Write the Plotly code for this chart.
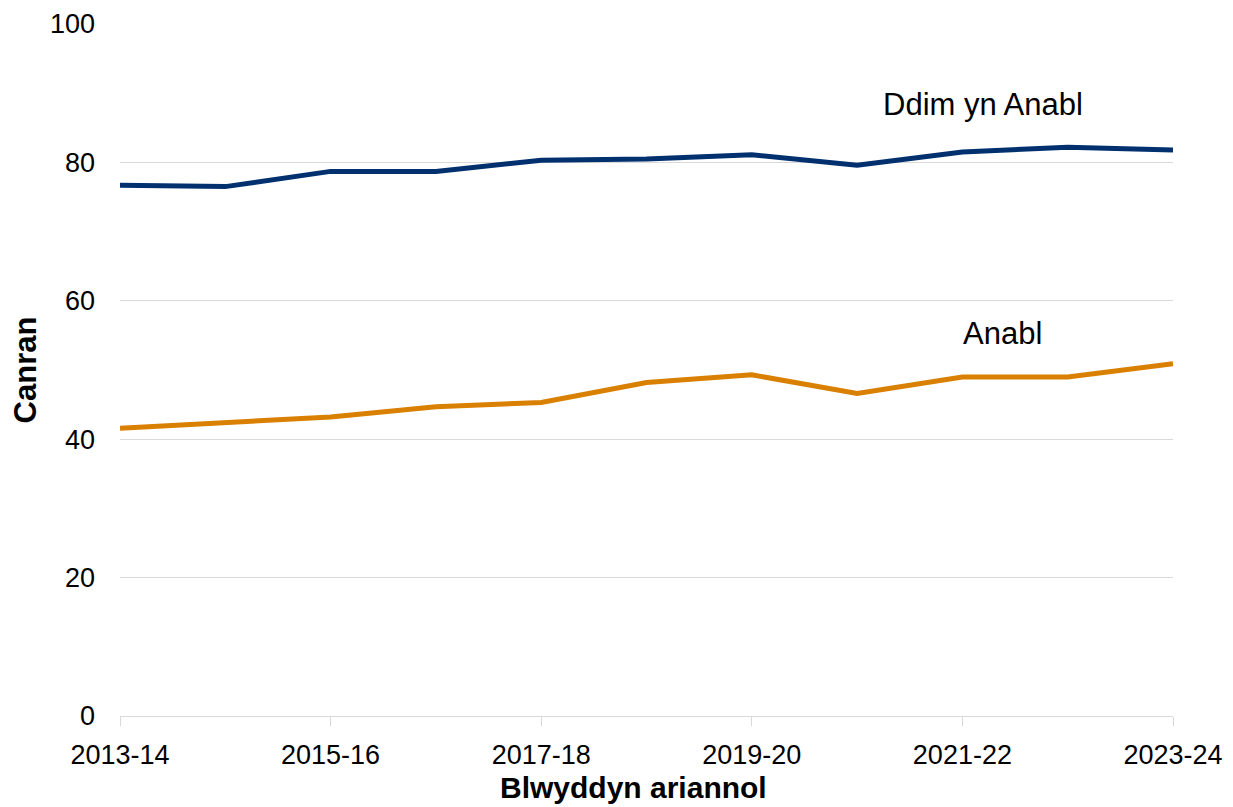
import plotly.graph_objects as go

years = ["2013-14", "2014-15", "2015-16", "2016-17", "2017-18", "2018-19",
         "2019-20", "2020-21", "2021-22", "2022-23", "2023-24"]
not_disabled = [76.7, 76.5, 78.7, 78.7, 80.3, 80.5, 81.1, 79.6, 81.5, 82.2, 81.8]
disabled = [41.6, 42.4, 43.2, 44.7, 45.3, 48.2, 49.3, 46.6, 49.0, 49.0, 50.9]
tick_labels = ["2013-14", "2015-16", "2017-18", "2019-20", "2021-22", "2023-24"]
y_ticks = [0, 20, 40, 60, 80, 100]

FONT = "Liberation Sans, Arial, sans-serif"
navy = "#00306e"
orange = "#d98000"

fig = go.Figure()
fig.add_trace(go.Scatter(x=years, y=not_disabled, mode="lines", name="Ddim yn Anabl",
                         line=dict(color=navy, width=5)))
fig.add_trace(go.Scatter(x=years, y=disabled, mode="lines", name="Anabl",
                         line=dict(color=orange, width=5)))

fig.add_annotation(x=8.2, y=88.4, xref="x", yref="y", text="Ddim yn Anabl",
                   showarrow=False, font=dict(family=FONT, size=31, color="#000000"))
fig.add_annotation(x=8.38, y=55.3, xref="x", yref="y", text="Anabl",
                   showarrow=False, font=dict(family=FONT, size=31, color="#000000"))
# x-axis title (placed slightly left of the plot centre, as in the reference)
fig.add_annotation(x=0.488, y=-0.104, xref="paper", yref="paper",
                   xanchor="center", yanchor="middle",
                   text="<b>Blwyddyn ariannol</b>", showarrow=False,
                   font=dict(family=FONT, size=30, color="#000000"))

# page body has an 8px margin, so the figure is drawn at (8, 8)
fig.update_layout(
    width=1225, height=799,
    margin=dict(l=112, r=60, t=16, b=91),
    paper_bgcolor="white", plot_bgcolor="white",
    showlegend=False,
    font=dict(family=FONT, size=27, color="#000000"),
)
fig.update_xaxes(
    type="category", categoryorder="array", categoryarray=years,
    range=[0, 10], automargin=False,
    tickvals=tick_labels, ticktext=tick_labels,
    ticks="outside", ticklen=9, tickcolor="#d9d9d9", tickwidth=1,
    showline=True, linecolor="#d9d9d9", linewidth=1,
    showgrid=False, zeroline=False,
    ticklabelstandoff=6,
    tickfont=dict(family=FONT, size=27, color="#000000"),
)
fig.update_yaxes(
    range=[0, 100], tickvals=y_ticks, automargin=False,
    showgrid=True, gridcolor="#d9d9d9", gridwidth=1,
    showline=False, zeroline=False, ticks="",
    ticklabelstandoff=24,
    tickfont=dict(family=FONT, size=27, color="#000000"),
    title=dict(text="<b>Canran</b>", standoff=8,
               font=dict(family=FONT, size=31, color="#000000")),
)

fig.write_html("out.html")
